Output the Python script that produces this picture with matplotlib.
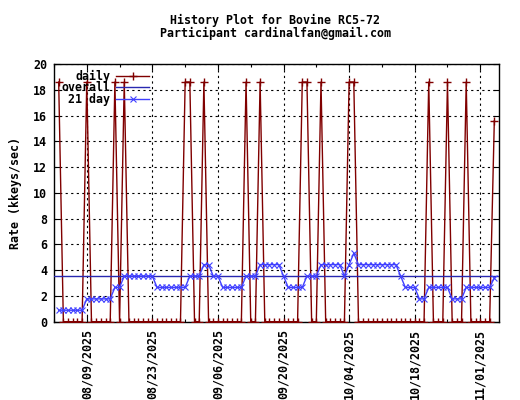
import matplotlib
matplotlib.use("Agg")
import matplotlib.pyplot as plt
import matplotlib.dates as mdates
import pandas as pd

# ---- data ----
start_date = "2025-08-03"
daily = [18.6, 0, 0, 0, 0, 0, 18.6, 0, 0, 0,
         0, 0, 18.6, 0, 18.6, 0, 0, 0, 0, 0,
         0, 0, 0, 0, 0, 0, 0, 18.6, 18.6, 0,
         0, 18.6, 0, 0, 0, 0, 0, 0, 0, 0,
         18.6, 0, 0, 18.6, 0, 0, 0, 0, 0, 0,
         0, 0, 18.6, 18.6, 0, 0, 18.6, 0, 0, 0,
         0, 0, 18.6, 18.6, 0, 0, 0, 0, 0, 0,
         0, 0, 0, 0, 0, 0, 0, 0, 0, 18.6,
         0, 0, 0, 18.6, 0, 0, 0, 18.6, 0, 0,
         0, 0, 0, 15.6]
avg21 = [0.89, 0.89, 0.89, 0.89, 0.89, 0.89, 1.77, 1.77, 1.77, 1.77,
         1.77, 1.77, 2.66, 2.66, 3.54, 3.54, 3.54, 3.54, 3.54, 3.54,
         3.54, 2.66, 2.66, 2.66, 2.66, 2.66, 2.66, 2.66, 3.54, 3.54,
         3.54, 4.43, 4.43, 3.54, 3.54, 2.66, 2.66, 2.66, 2.66, 2.66,
         3.54, 3.54, 3.54, 4.43, 4.43, 4.43, 4.43, 4.43, 3.54, 2.66,
         2.66, 2.66, 2.66, 3.54, 3.54, 3.54, 4.43, 4.43, 4.43, 4.43,
         4.43, 3.54, 4.43, 5.31, 4.43, 4.43, 4.43, 4.43, 4.43, 4.43,
         4.43, 4.43, 4.43, 3.54, 2.66, 2.66, 2.66, 1.77, 1.77, 2.66,
         2.66, 2.66, 2.66, 2.66, 1.77, 1.77, 1.77, 2.66, 2.66, 2.66,
         2.66, 2.66, 2.66, 3.40]
overall = 3.53
x_start, x_end = "2025-08-02", "2025-11-05"
tick_dates = ["2025-08-09", "2025-08-23", "2025-09-06", "2025-09-20",
              "2025-10-04", "2025-10-18", "2025-11-01"]
minor_dates = ["2025-08-02", "2025-08-16", "2025-08-30", "2025-09-13",
               "2025-09-27", "2025-10-11", "2025-10-25"]
title_lines = ["History Plot for Bovine RC5-72",
               "Participant cardinalfan@gmail.com"]

dates = pd.date_range(start_date, periods=len(daily), freq="D")

plt.rcParams['font.family'] = ['DejaVu Sans Mono']
plt.rcParams['font.weight'] = 'bold'
plt.rcParams['axes.labelweight'] = 'bold'
FS = 8.4
W, H = 520, 400

fig = plt.figure(figsize=(5.2, 4.0), dpi=100)
ax = fig.add_axes([54/W, 1-321.7/H, 445/W, 257.7/H])

ax.plot(dates, daily, color='#800000', lw=1.0, marker='+', ms=6, mew=1.0,
        label='daily', zorder=3)
ax.axhline(overall, color='#2828b0', lw=1.0, label='overall', zorder=4)
ax.plot(dates, avg21, color='#4040ff', lw=1.0, marker='x', ms=4.5, mew=0.8,
        label='21 day', zorder=5)

ax.set_xlim(pd.Timestamp(x_start), pd.Timestamp(x_end))
ax.set_ylim(0, 20)
ax.set_yticks(range(0, 21, 2))
ax.set_xticks(pd.to_datetime(tick_dates))
ax.set_xticks(pd.to_datetime(minor_dates), minor=True)
ax.xaxis.set_major_formatter(mdates.DateFormatter("%m/%d/%Y"))
for lbl in ax.get_xticklabels() + ax.get_yticklabels():
    lbl.set_fontweight('bold')
for lbl in ax.get_xticklabels():
    lbl.set_rotation(90)
ax.tick_params(axis='both', which='major', direction='in', length=4.5,
               width=0.8, top=True, right=True, labelsize=FS, pad=5)
ax.tick_params(axis='x', which='minor', direction='in', length=2.2,
               width=0.8, top=True, bottom=True)
ax.grid(True, which='major', color='black', lw=0.8, linestyle=(0, (2, 3)))
for s in ax.spines.values():
    s.set_linewidth(1.0)

ax.set_ylabel("Rate (kkeys/sec)", fontsize=FS, fontweight='bold', labelpad=8)
cx = 275.5 / W
fig.text(cx, 1 - 20/H, title_lines[0], ha='center', va='center',
         fontsize=FS, fontweight='bold')
fig.text(cx, 1 - 33/H, title_lines[1], ha='center', va='center',
         fontsize=FS, fontweight='bold')

leg = ax.legend(loc='upper left', bbox_to_anchor=(0.008, 0.992), frameon=False,
                markerfirst=False, handlelength=2.8, handletextpad=0.55,
                labelspacing=-0.12, borderpad=0.3, borderaxespad=0,
                numpoints=1, prop={'size': FS, 'weight': 'bold'})

fig.savefig("out.png", dpi=100)
